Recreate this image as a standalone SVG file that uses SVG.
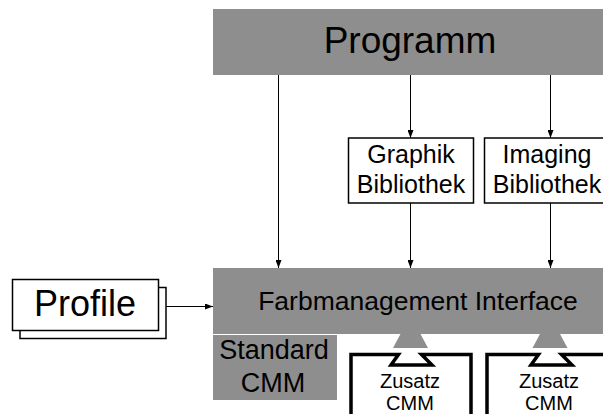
<svg xmlns="http://www.w3.org/2000/svg" width="603" height="414" viewBox="0 0 603 414">
<defs>
<style>
.gray{fill:#8e8e8e;}
.box{fill:#fff;stroke:#000;stroke-width:1.5;}
.cmm{fill:none;stroke:#000;stroke-width:3.5;stroke-linejoin:miter;}
.edge{stroke:#000;stroke-width:1;fill:none;marker-end:url(#ah);}
text{font-family:"Liberation Sans",Arial,sans-serif;fill:#000;text-anchor:middle;}
</style>
<marker id="ah" markerWidth="8" markerHeight="6" refX="8" refY="3" orient="auto" markerUnits="userSpaceOnUse">
<path d="M0,0 L8,3 L0,6 Z" fill="#000"/>
</marker>
</defs>
<rect width="603" height="414" fill="#fff"/>
<g id="programm">
<rect class="gray" x="213" y="9" width="392" height="66"/>
<text x="410" y="53" font-size="37">Programm</text>
</g>
<g id="graphik">
<rect class="box" x="348.5" y="138" width="125" height="65"/>
<text x="411" y="163" font-size="25">Graphik</text>
<text x="411" y="193" font-size="25">Bibliothek</text>
</g>
<g id="imaging">
<rect class="box" x="484.5" y="138" width="125" height="65"/>
<text x="547" y="163" font-size="25">Imaging</text>
<text x="547" y="193" font-size="25">Bibliothek</text>
</g>
<g id="interface">
<rect class="gray" x="213" y="268" width="392" height="66"/>
<text x="418" y="310" font-size="26.5">Farbmanagement Interface</text>
</g>
<g id="profile">
<rect class="box" x="20" y="287.5" width="146" height="51"/>
<rect class="box" x="12.5" y="279.5" width="146" height="51"/>
<text x="85" y="316" font-size="36">Profile</text>
</g>
<g id="standard">
<rect class="gray" x="213" y="335" width="124" height="65"/>
<text x="274" y="359" font-size="27">Standard</text>
<text x="273" y="392" font-size="27">CMM</text>
</g>
<g id="zusatz1">
<polygon class="gray" points="400.5,334 420.5,334 428,348 393,348"/>
<path class="cmm" d="M351,420 V354.5 H398.5 L391,365 H432 L421.5,354.5 H471 V420"/>
<text x="410" y="388" font-size="20">Zusatz</text>
<text x="410" y="410" font-size="20">CMM</text>
</g>
<g id="zusatz2">
<polygon class="gray" points="540,334 560,334 567.5,348 532.5,348"/>
<path class="cmm" d="M487,420 V354.5 H538.5 L531,365 H572 L561.5,354.5 H610"/>
<text x="549" y="388" font-size="20">Zusatz</text>
<text x="549" y="410" font-size="20">CMM</text>
</g>
<g id="connectors">
<line class="edge" x1="278.5" y1="75" x2="278.5" y2="268"/>
<line class="edge" x1="410.5" y1="75" x2="410.5" y2="138"/>
<line class="edge" x1="410.5" y1="203" x2="410.5" y2="268"/>
<line class="edge" x1="550.5" y1="75" x2="550.5" y2="138"/>
<line class="edge" x1="550.5" y1="203" x2="550.5" y2="268"/>
<line class="edge" x1="166" y1="306.5" x2="213" y2="306.5"/>
</g>
</svg>
